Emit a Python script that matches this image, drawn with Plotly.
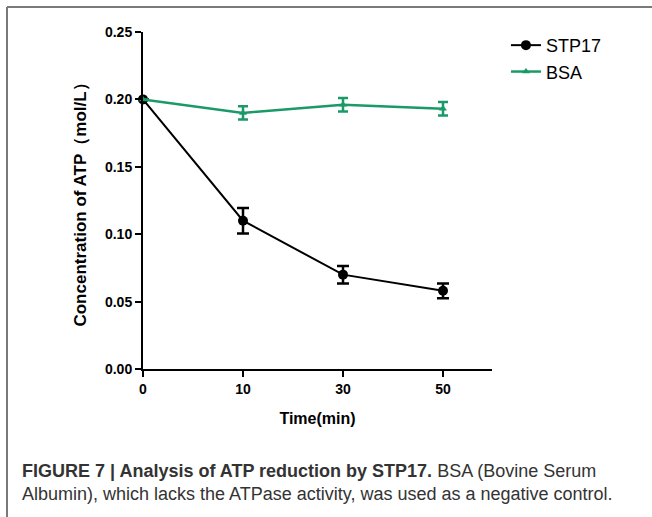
import plotly.graph_objects as go

time_labels = ["0", "10", "30", "50"]
stp17_mean = [0.200, 0.110, 0.070, 0.058]
stp17_err = [0.000, 0.0095, 0.0065, 0.0055]
bsa_mean = [0.200, 0.190, 0.196, 0.193]
bsa_err = [0.000, 0.005, 0.005, 0.005]
y_ticks = [0.00, 0.05, 0.10, 0.15, 0.20, 0.25]

GREEN = "#1a9a68"
FONT = "Liberation Sans, Arial, sans-serif"

fig = go.Figure()
fig.add_trace(go.Scatter(
    x=time_labels, y=stp17_mean, name="STP17", mode="lines+markers",
    line=dict(color="black", width=2),
    marker=dict(symbol="circle", size=10, color="black"),
    error_y=dict(type="data", array=stp17_err, color="black", thickness=2.5, width=6),
    cliponaxis=False,
))
fig.add_trace(go.Scatter(
    x=time_labels, y=bsa_mean, name="BSA", mode="lines+markers",
    line=dict(color=GREEN, width=2.5),
    marker=dict(symbol="triangle-up", size=7, color=GREEN),
    error_y=dict(type="data", array=bsa_err, color=GREEN, thickness=2.5, width=5),
    cliponaxis=False,
))

fig.update_layout(
    width=652, height=517,
    margin=dict(l=143, r=160, t=32, b=148),
    paper_bgcolor="white", plot_bgcolor="white",
    font=dict(family=FONT, color="black"),
    showlegend=True,
    legend=dict(x=1.04, y=1.015, xanchor="left", yanchor="top",
                font=dict(size=18, family=FONT, color="black"),
                bgcolor="rgba(0,0,0,0)", tracegroupgap=0, itemwidth=30),
    xaxis=dict(
        type="category", range=[0, 3.49],
        showline=True, linecolor="black", linewidth=2,
        ticks="outside", ticklen=6, tickwidth=2, tickcolor="black",
        showgrid=False, zeroline=False,
        tickfont=dict(size=14, family=FONT, color="black", weight="bold"),
        title=dict(text="<b>Time(min)</b>", font=dict(size=16, family=FONT), standoff=17),
    ),
    yaxis=dict(
        range=[0, 0.25], tickvals=y_ticks, tickformat=".2f",
        showline=True, linecolor="black", linewidth=2,
        ticks="outside", ticklen=6, tickwidth=2, tickcolor="black",
        showgrid=False, zeroline=False,
        tickfont=dict(size=14, family=FONT, color="black", weight="bold"),
        title=dict(text="<b>Concentration of ATP（mol/L）</b>", font=dict(size=17, family=FONT), standoff=14),
    ),
)

# frame lines (top and left) of the figure panel
fig.add_shape(type="line", xref="paper", yref="paper",
              x0=-136/349, x1=(652-143)/349 + 0.01, y0=(369-7)/337, y1=(369-7)/337,
              line=dict(color="#7a7a7a", width=2))
fig.add_shape(type="line", xref="paper", yref="paper",
              x0=-136/349, x1=-136/349, y0=(369-7)/337, y1=-148/337 - 0.01,
              line=dict(color="#7a7a7a", width=2))

fig.add_annotation(
    xref="paper", yref="paper", x=-123/349, y=-(459-369)/337,
    xanchor="left", yanchor="top", align="left", showarrow=False,
    text="<b>FIGURE 7 | Analysis of ATP reduction by STP17.</b> BSA (Bovine Serum<br>Albumin), which lacks the ATPase activity, was used as a negative control.",
    font=dict(size=18, family=FONT, color="#333333"),
)

fig.write_html("out.html", config={"displayModeBar": False},
               post_script="document.body.style.margin='0';")
